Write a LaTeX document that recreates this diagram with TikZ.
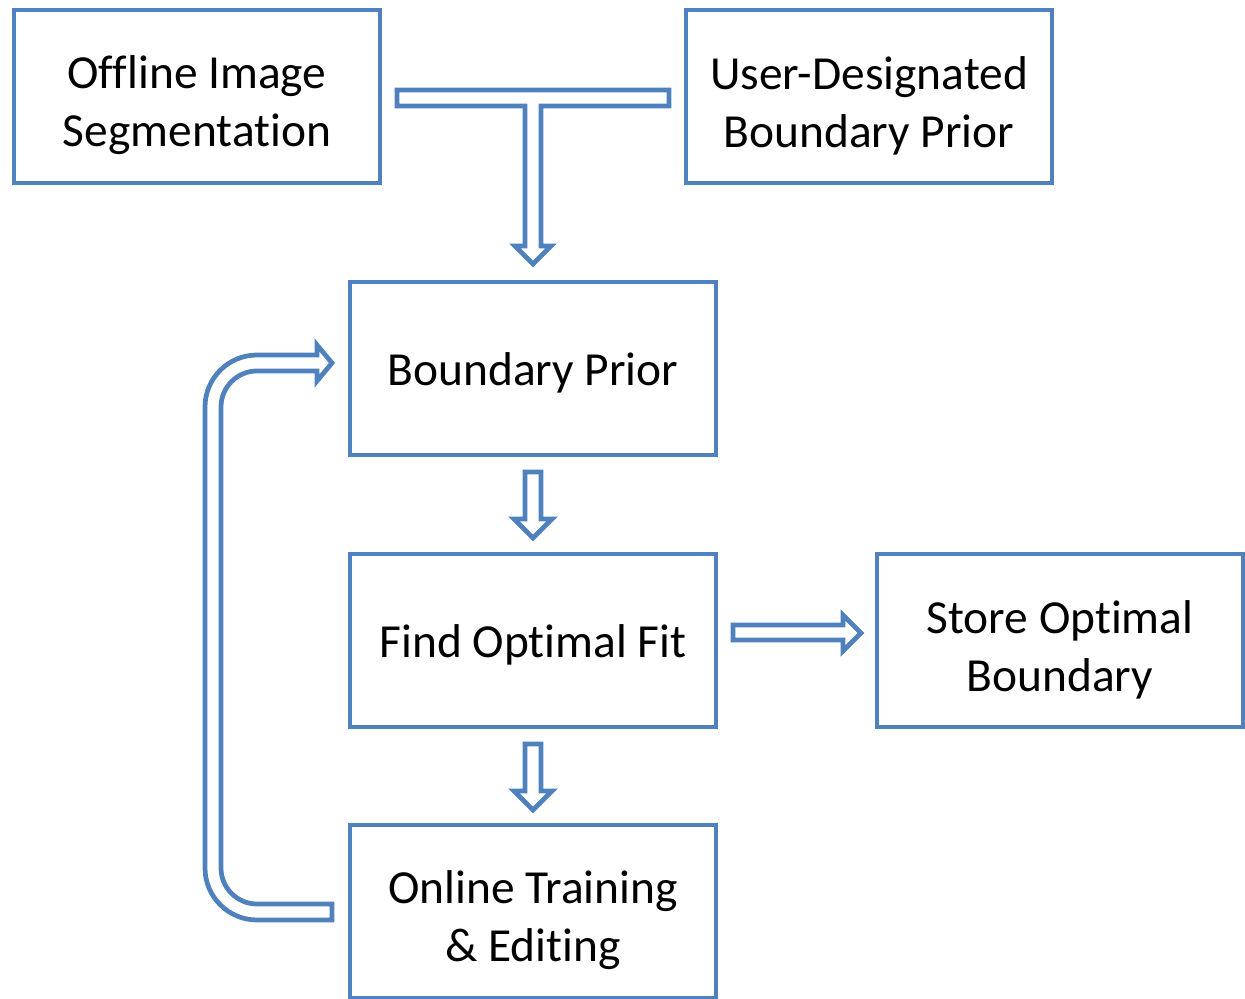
\documentclass[tikz,border=0pt]{standalone}
\usepackage{fontspec}
\setmainfont{Carlito}[Ligatures=NoCommon]
\usepackage{tikz}
\usetikzlibrary{arrows}
\definecolor{officeblue}{RGB}{79,129,189}
\newcommand{\toppad}{\rule{0pt}{29pt}}

\begin{document}
\begin{tikzpicture}[x=0.02cm, y=-0.02cm,
    box/.style={draw=officeblue, line width=2.7pt, fill=white, inner sep=0pt,
                minimum width=7.32cm, minimum height=3.46cm, align=center,
                font=\fontsize{27}{33}\selectfont,
                execute at begin node=\rule{0pt}{24pt}},
    twoline/.style={execute at begin node={}},
    blockarrow/.style={draw=officeblue, line width=2.7pt, fill=white}]
              \useasboundingbox (0,0) rectangle (1245,999);

              \node[box, twoline] (offline) at (197, 96.5) {\toppad Offline Image\\Segmentation};
              \node[box, twoline] (user) at (869, 96.5) {\toppad User-Designated\\Boundary Prior};
              \node[box] (prior) at (533, 368.5) {Boundary Prior};
              \node[box] (fit) at (533, 640.5) {Find Optimal Fit};
              \node[box, twoline] (store) at (1060, 640.5) {\toppad Store Optimal\\Boundary};
              \node[box, twoline] (online) at (533, 911.5) {\toppad Online Training\\\& Editing};

              % merge of the two inputs
              \draw[blockarrow] (397,90) -- (669,90) -- (669,106) -- (541,106) -- (541,246)
                        -- (551,246) -- (533,264) -- (515,246) -- (525,246) -- (525,106)
                        -- (397,106) -- cycle;

              % prior -> fit, fit -> online
              \foreach \dy in {0, 272} {
                \draw[blockarrow] (525,472+\dy) -- (541,472+\dy) -- (541,519+\dy) -- (552,519+\dy)
                          -- (533,538+\dy) -- (514,519+\dy) -- (525,519+\dy) -- cycle;
              }

              % fit -> store
              \draw[blockarrow] (733,625) -- (843,625) -- (843,615) -- (861,633) -- (843,651)
                        -- (843,640) -- (733,640) -- cycle;

              % online -> prior (feedback)
              \draw[blockarrow] (332,920) -- (257,920) .. controls (228.3,920) and (205,896.7) .. (205,868)
                        -- (205,407) .. controls (205,378.3) and (228.3,355) .. (257,355)
                        -- (317,355) -- (317,345) -- (332,363) -- (317,381) -- (317,371)
                        -- (257,371) .. controls (237.1,371) and (221,387.1) .. (221,407)
                        -- (221,868) .. controls (221,887.9) and (237.1,904) .. (257,904)
                        -- (332,904) -- cycle;
            \end{tikzpicture}
\end{document}
